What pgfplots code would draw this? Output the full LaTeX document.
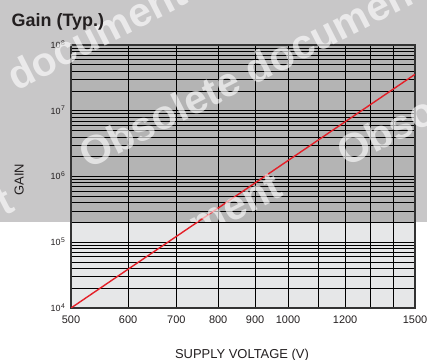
\documentclass[border=0pt]{standalone}
\usepackage{fontspec}
\setmainfont{Liberation Sans}
\usepackage{pgfplots}
\pgfplotsset{compat=1.18}
\definecolor{outergray}{RGB}{200,199,200}
\definecolor{plotdark}{RGB}{180,180,180}
\definecolor{plotlight}{RGB}{230,231,232}
\definecolor{curvered}{RGB}{228,32,40}
\definecolor{txt}{RGB}{35,31,32}
\newcommand{\pw}[1]{10\kern0.4bp\raisebox{3.2bp}{\fontsize{6.8}{7}\selectfont #1}}
\begin{document}
\begin{tikzpicture}[x=1bp,y=1bp]
\useasboundingbox (0,0) rectangle (427,360);
\fill[outergray] (0,138) rectangle (427,360);
\fill[plotdark] (71,138) rectangle (415,315);
\fill[plotlight] (71,52) rectangle (415,138);
\begin{axis}[
  at={(71bp,52bp)}, anchor=south west,
  scale only axis, width=344bp, height=263bp,
  xmode=log, ymode=log,
  xmin=500, xmax=1500, ymin=1e4, ymax=1e8,
  xtick={500,600,700,800,900,1000,1100,1200,1300,1400,1500},
  xticklabels={500,600,700,800,900,1000,,1200,,,1500},
  ytick={1e4,1e5,1e6,1e7,1e8},
  yticklabels={\pw{4},\pw{5},\pw{6},\pw{7},\pw{8}},
  minor xtick={},
  minor ytick={2e4,3e4,4e4,5e4,6e4,7e4,8e4,9e4,
               2e5,3e5,4e5,5e5,6e5,7e5,8e5,9e5,
               2e6,3e6,4e6,5e6,6e6,7e6,8e6,9e6,
               2e7,3e7,4e7,5e7,6e7,7e7,8e7,9e7},
  grid=both,
  major grid style={black, line width=0.75bp},
  minor grid style={black, line width=0.75bp},
  major tick length=0pt, minor tick length=0pt,
  axis line style={line width=1.3bp, black!80},
  xticklabel style={font=\fontsize{11}{12}\selectfont, text=txt, anchor=base, inner sep=0pt, yshift=-15.3bp},
  yticklabel style={font=\fontsize{9}{10}\selectfont, text=txt, anchor=base east, inner sep=0pt, xshift=-6bp, yshift=-3.3bp},
]
\addplot[curvered, line width=1.4bp, no markers] coordinates {(500,1e4) (1000,1.75e6) (1500,3.58e7)};
\end{axis}
% watermark, only on the upper (grey) part of the page
\begin{scope}
\clip (0,138) rectangle (427,360);
\tikzset{wm/.style={anchor=base west, inner sep=0pt, rotate=27, text=white, text opacity=0.62, font=\fontsize{41}{44}\selectfont\bfseries}}
\node[wm] at (88,190) {Obsolete document};
\node[wm] at (-150,184) {\phantom{Obsolete }document};
\node[wm] at (346,192) {Obsol};
\node[wm] at (-55,-9) {\phantom{Obsolete docu}ment};
\node[wm] at (-323,-24) {\phantom{Obsolete documen}t};
\end{scope}
\node[anchor=base west, inner sep=0pt, font=\fontsize{18}{20}\selectfont\bfseries, text=txt] at (11.5,334) {Gain (Typ.)};
\node[anchor=base, inner sep=0pt, font=\fontsize{13}{14}\selectfont, text=txt] at (242,1.8) {SUPPLY VOLTAGE (V)};
\node[rotate=90, inner sep=0pt, font=\fontsize{13}{14}\selectfont, text=txt] at (19.2,180.5) {GAIN};
\end{tikzpicture}
\end{document}
